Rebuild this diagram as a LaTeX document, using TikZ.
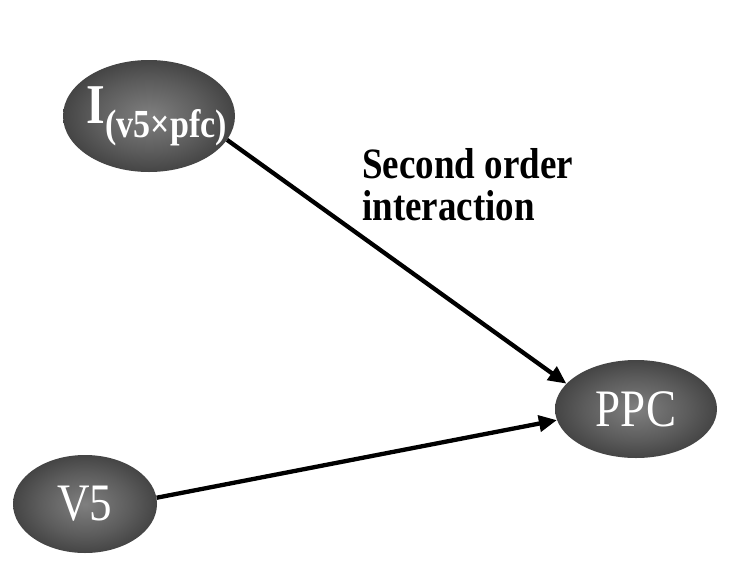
\documentclass[tikz,border=0pt]{standalone}
\usepackage{fontspec}
\setmainfont{Liberation Serif}
\usetikzlibrary{arrows.meta,shapes.geometric}

\pgfdeclareradialshading{blobshade}{\pgfpoint{0bp}{0bp}}{color(0bp)=(black!50); color(16bp)=(black!64); color(38bp)=(black!86); color(50bp)=(black!93)}

% text in the picture is a little taller than wide
\newcommand{\tall}[1]{\scalebox{1}[1.17]{#1}}

\tikzset{
  blob/.style={ellipse, shading=blobshade, text=white, inner sep=0pt,
    font=\fontsize{45}{45}\selectfont},
  link/.style={line width=4.3pt, -{Triangle[length=18pt,width=16pt]}},
}

\begin{document}
\begin{tikzpicture}[x=1pt,y=-1pt]
    \useasboundingbox (0,0) rectangle (732,566);
        \node[blob, minimum width=172pt, minimum height=112pt] (inter) at (149,116)
            {\hspace{16pt}\makebox[0pt]{\tall{\bfseries{\fontsize{48}{48}\selectfont I}\raisebox{-12pt}{\fontsize{34}{34}\selectfont (v5×pfc)}}}};
        \node[blob, minimum width=162pt, minimum height=98pt] (ppc) at (636,409) {\tall{PPC}};
        \node[blob, minimum width=144pt, minimum height=98pt] (vfive) at (85,504) {\tall{V5}};
        \node[anchor=north west, inner sep=0pt,
            font=\fontsize{37}{35}\selectfont\bfseries] (label) at (362,148)
            {\tall{\begin{tabular}{@{}l@{}}Second order\\interaction\end{tabular}}};
        \draw[link] (inter.-17) -- (ppc.160);
        \draw[link] (vfive.5) -- (ppc.-172);
    \end{tikzpicture}
\end{document}
